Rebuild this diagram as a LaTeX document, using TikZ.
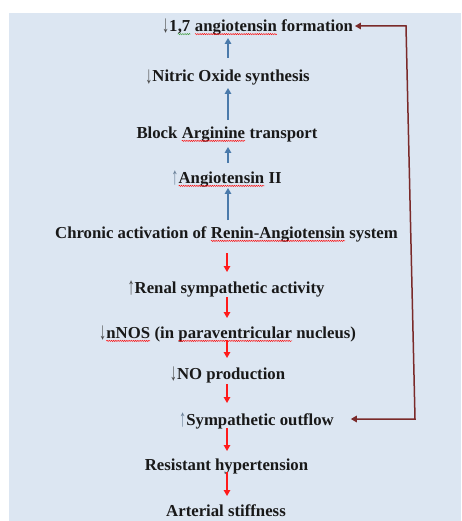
\documentclass[tikz,border=0pt]{standalone}
\usepackage{fontspec}
\setmainfont{Liberation Serif}
\usetikzlibrary{arrows.meta,decorations.pathmorphing,calc}
\definecolor{bg}{HTML}{DCE6F2}
\definecolor{blarrow}{HTML}{4A7AAB}
\definecolor{rdarrow}{HTML}{FF1A1A}
\definecolor{maroonc}{HTML}{7A2A2A}
\definecolor{symgray}{HTML}{4A4A4A}
\definecolor{symblue}{HTML}{6A8098}
\definecolor{wvgreen}{HTML}{3A9A3A}
\newcommand\wv[2][red]{\tikz[baseline=(w.base)]{\node[inner sep=0pt,outer sep=0pt](w){#2};\draw[#1,line width=0.45pt,decorate,decoration={snake,amplitude=0.6pt,segment length=2.2pt}]([yshift=-2.6pt]w.base west)--([yshift=-2.6pt]w.base east);}}
\newcommand\arr[2]{{\color{#1}\mdseries\raisebox{-1.5pt}{\scalebox{0.85}[1.45]{#2}}}}
\newcommand\dn{\arr{symgray}{↓}}
\newcommand\upg{\arr{symgray}{↑}}
\newcommand\upb{\arr{symblue}{↑}}
\begin{document}
\begin{tikzpicture}[x=1pt,y=-1pt,
  lbl/.style={anchor=base,inner sep=0pt,outer sep=0pt,font=\fontsize{16.75}{20}\selectfont\bfseries,text=black!90},
  blarr/.style={blarrow,line width=1.5pt,-{Triangle[width=6.5pt,length=6pt]}},
  rdarr/.style={rdarrow,line width=1.3pt,-{Triangle[width=6.5pt,length=6pt]}},
  fb/.style={maroonc,line width=1.5pt,{Triangle[width=6.5pt,length=6pt]}-{Triangle[width=6.5pt,length=6pt]}}]
\useasboundingbox (0,0) rectangle (461,521);
\fill[bg] (9,13) rectangle (461,521);
\coordinate (ax) at (228,0);
\coordinate (rt) at (406,26);
\coordinate (rb) at (415,419);
\node[lbl] (n1) at (257.5,31.5) {\dn1\wv[wvgreen]{,7} \wv{angiotensin} formation};
\node[lbl] (n2) at (227.5,81.7) {\dn Nitric Oxide synthesis};
\node[lbl] (n3) at (227,138.3) {Block \wv{Arginine} transport};
\node[lbl] (n4) at (226.5,183.3) {\upb\wv{Angiotensin} II};
\node[lbl] (n5) at (226.5,238.3) {Chronic activation of \wv{Renin-Angiotensin} system};
\node[lbl] (n6) at (226,293.3) {\upg Renal sympathetic activity};
\node[lbl] (n7) at (227.5,338.3) {\dn\wv{nNOS} (in \wv{paraventricular} nucleus)};
\node[lbl] (n8) at (227.5,379.3) {\dn NO production};
\node[lbl] (n9) at (256.5,425) {\upb Sympathetic outflow};
\node[lbl] (n10) at (226.5,470) {Resistant hypertension};
\node[lbl] (n11) at (226,516) {Arterial stiffness};
\draw[blarr] ($(n2.base -| ax)+(0,-23.7)$) -- ($(n1.base -| ax)+(0,6.5)$);
\draw[blarr] ($(n3.base -| ax)+(0,-18.3)$) -- ($(n2.base -| ax)+(0,6.3)$);
\draw[blarr] ($(n4.base -| ax)+(0,-20.3)$) -- ($(n3.base -| ax)+(0,8.7)$);
\draw[blarr] ($(n5.base -| ax)+(0,-18.3)$) -- ($(n4.base -| ax)+(0,4.7)$);
\draw[rdarr] ($(n5.base -| ax)+(-1,14.7)$) -- ($(n6.base -| ax)+(-1,-21.3)$);
\draw[rdarr] ($(n6.base -| ax)+(-1,3.7)$) -- ($(n7.base -| ax)+(-1,-20.3)$);
\draw[rdarr] ($(n7.base -| ax)+(-1,1.7)$) -- ($(n8.base -| ax)+(-1,-21.3)$);
\draw[rdarr] ($(n8.base -| ax)+(-1,4.7)$) -- ($(n9.base -| ax)+(-1,-22)$);
\draw[rdarr] ($(n9.base -| ax)+(-1,3)$) -- ($(n10.base -| ax)+(-1,-19)$);
\draw[rdarr] ($(n10.base -| ax)+(-1,2)$) -- ($(n11.base -| ax)+(-1,-20)$);
\draw[fb] ($(n1.base east)+(2,-5.5)$) -- (rt) -- (rb) -- ($(n9.base east)+(17,-6)$);
\end{tikzpicture}
\end{document}
